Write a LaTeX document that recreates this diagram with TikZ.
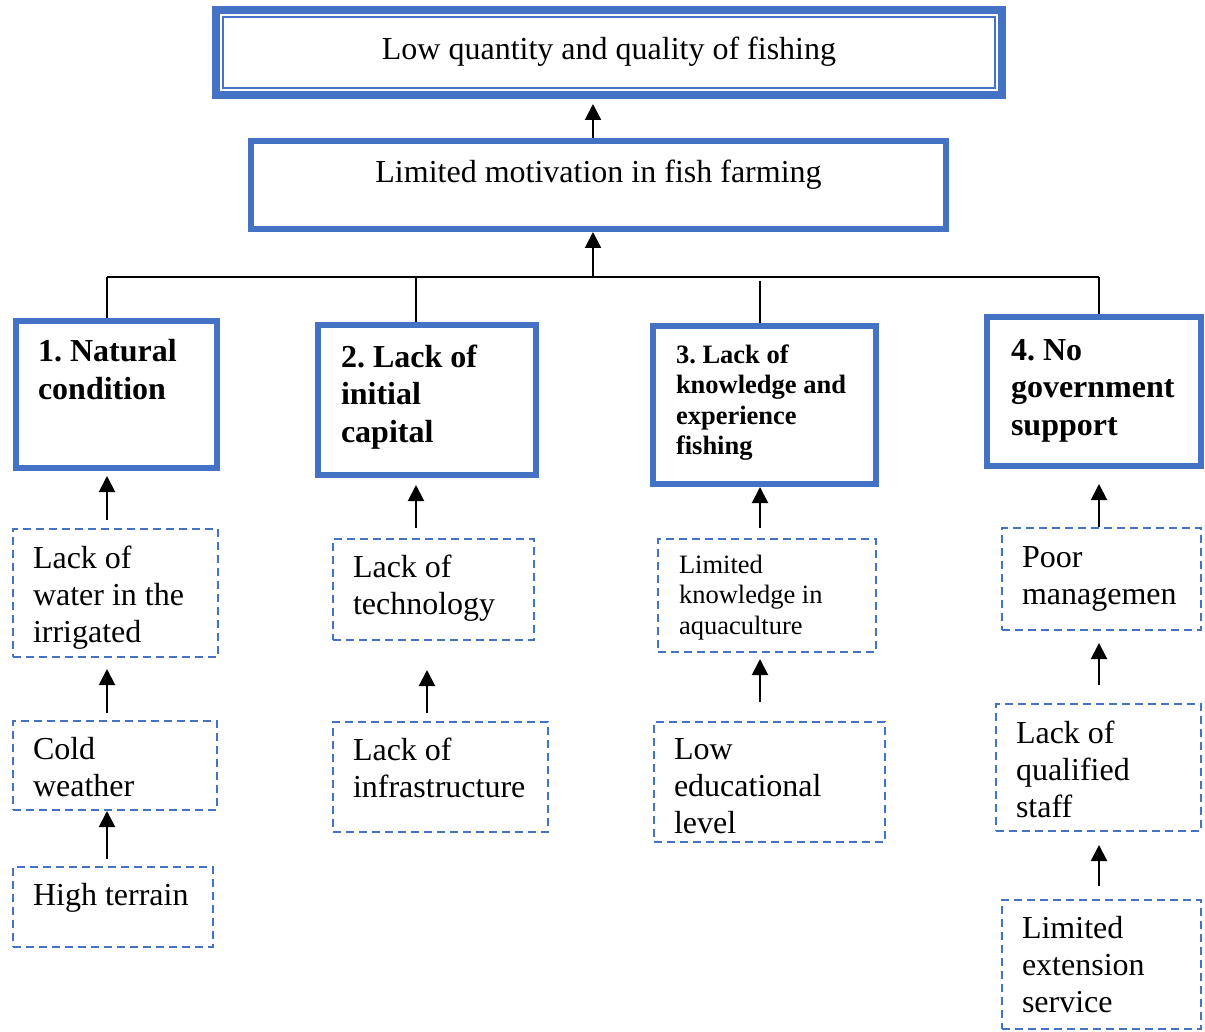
\documentclass[tikz,border=0pt]{standalone}
\usepackage{fontspec}
\setmainfont{Liberation Serif}
\frenchspacing
\usetikzlibrary{arrows.meta}
\definecolor{boxblue}{RGB}{68,114,196}
\tikzset{
  every node/.style={execute at begin node={\spaceskip=0.25em\relax}},
  cause/.style={draw=boxblue, line width=6pt, anchor=north west, align=left, inner ysep=0pt, inner xsep=23pt, font=\bfseries\fontsize{32}{37.5}\selectfont},
  factor/.style={draw=boxblue, line width=2pt, dash pattern=on 8pt off 5pt, anchor=north west, align=left, inner ysep=0pt, inner xsep=20pt, font=\fontsize{32}{37}\selectfont},
  arr/.style={-{Triangle[length=16pt,width=16pt]}, line width=2pt},
  bus/.style={line width=1.3pt}
}
\begin{document}
\begin{tikzpicture}[x=1pt,y=-1pt]
	\useasboundingbox (0,0) rectangle (1205,1032);
	\node[draw=boxblue, line width=8pt, anchor=north west, text width=766pt, align=center, inner xsep=10pt, inner ysep=0pt, text height=50pt, text depth=35pt, font=\fontsize{32}{37}\selectfont] (top) at (212,6) {Low quantity and quality of fishing};
	\draw[boxblue, line width=2pt] ([xshift=11pt,yshift=-11pt]top.north west) rectangle ([xshift=-11pt,yshift=11pt]top.south east);
	\node[draw=boxblue, line width=6pt, anchor=north west, text width=675pt, align=center, inner xsep=10pt, inner ysep=0pt, text height=42pt, text depth=46pt, font=\fontsize{32}{37}\selectfont] (mid) at (248,138) {Limited motivation in fish farming};
	\node[cause, text width=157pt, inner xsep=22pt, text height=41pt, text depth=106pt] (c1) at (13,318) {1. Natural\\condition};
	\node[cause, text width=172pt, text height=42pt, text depth=108pt] (c2) at (315,322) {2. Lack of\\initial\\capital};
	\node[cause, text width=177pt, text height=37pt, text depth=121pt, font=\bfseries\fontsize{26.5}{30.5}\selectfont] (c3) at (650,323) {3. Lack of\\knowledge and\\experience\\fishing};
	\node[cause, text width=166pt, inner xsep=24pt, text height=43pt, text depth=106pt] (c4) at (984,314) {4. No\\government\\support};
	\node[factor, text width=165pt, text height=39pt, text depth=89pt] (d11) at (12,528) {Lack of\\water in the\\irrigated};
	\node[factor, text width=164pt, text height=38pt, text depth=51pt] (d12) at (12,720) {Cold\\weather};
	\node[factor, text width=160pt, text height=38pt, text depth=42pt] (d13) at (12,866) {High terrain};
	\node[factor, text width=161pt, text height=38pt, text depth=63pt] (d21) at (332,538) {Lack of\\technology};
	\node[factor, text width=175pt, text height=38pt, text depth=72pt] (d22) at (332,721) {Lack of\\infrastructure};
	\node[factor, text width=176pt, inner xsep=21pt, text height=34pt, text depth=79pt, font=\fontsize{26.5}{30.7}\selectfont] (d31) at (657,538) {Limited\\knowledge in\\aquaculture};
	\node[factor, text width=191pt, text height=37pt, text depth=83pt] (d32) at (653,721) {Low\\educational\\level};
	\node[factor, text width=159pt, text height=39pt, text depth=63pt] (d41) at (1001,527) {Poor\\managemen};
	\node[factor, text width=165pt, text height=39pt, text depth=88pt] (d42) at (995,703) {Lack of\\qualified\\staff};
	\node[factor, text width=159pt, text height=38pt, text depth=91pt] (d43) at (1001,899) {Limited\\extension\\service};
	\coordinate (x1) at (107,277);
	\coordinate (x2) at (416,277);
	\coordinate (x3) at (760,277);
	\coordinate (x4) at (1099,277);
	\coordinate (j) at (593,277);
	\coordinate (k2) at (427,277);
	\draw[bus] (x1) -- (x4);
	\foreach \c in {1,2,4}
		\draw[bus] (x\c) -- (x\c |- c\c.north);
	\draw[bus, shorten <=4pt] (x3) -- (x3 |- c3.north);
	\draw[arr] (j) -- (j |- mid.south);
	\draw[arr, shorten >=5pt] (mid.north -| j) -- (top.south -| j);
	\draw[arr, shorten <=8pt, shorten >=5pt] (d11.north -| x1) -- (c1.south -| x1);
	\draw[arr, shorten <=7pt, shorten >=11pt] (d12.north -| x1) -- (d11.south -| x1);
	\draw[arr, shorten <=7pt] (d13.north -| x1) -- (d12.south -| x1);
	\draw[arr, shorten <=10pt, shorten >=7pt] (d21.north -| x2) -- (c2.south -| x2);
	\draw[arr, shorten <=8pt, shorten >=29pt] (d22.north -| k2) -- (d21.south -| k2);
	\draw[arr, shorten <=10pt] (d31.north -| x3) -- (c3.south -| x3);
	\draw[arr, shorten <=19pt, shorten >=6pt] (d32.north -| x3) -- (d31.south -| x3);
	\draw[arr, shorten >=15pt] (d41.north -| x4) -- (c4.south -| x4);
	\draw[arr, shorten <=18pt, shorten >=12pt] (d42.north -| x4) -- (d41.south -| x4);
	\draw[arr, shorten <=13pt, shorten >=13pt] (d43.north -| x4) -- (d42.south -| x4);
\end{tikzpicture}
\end{document}
